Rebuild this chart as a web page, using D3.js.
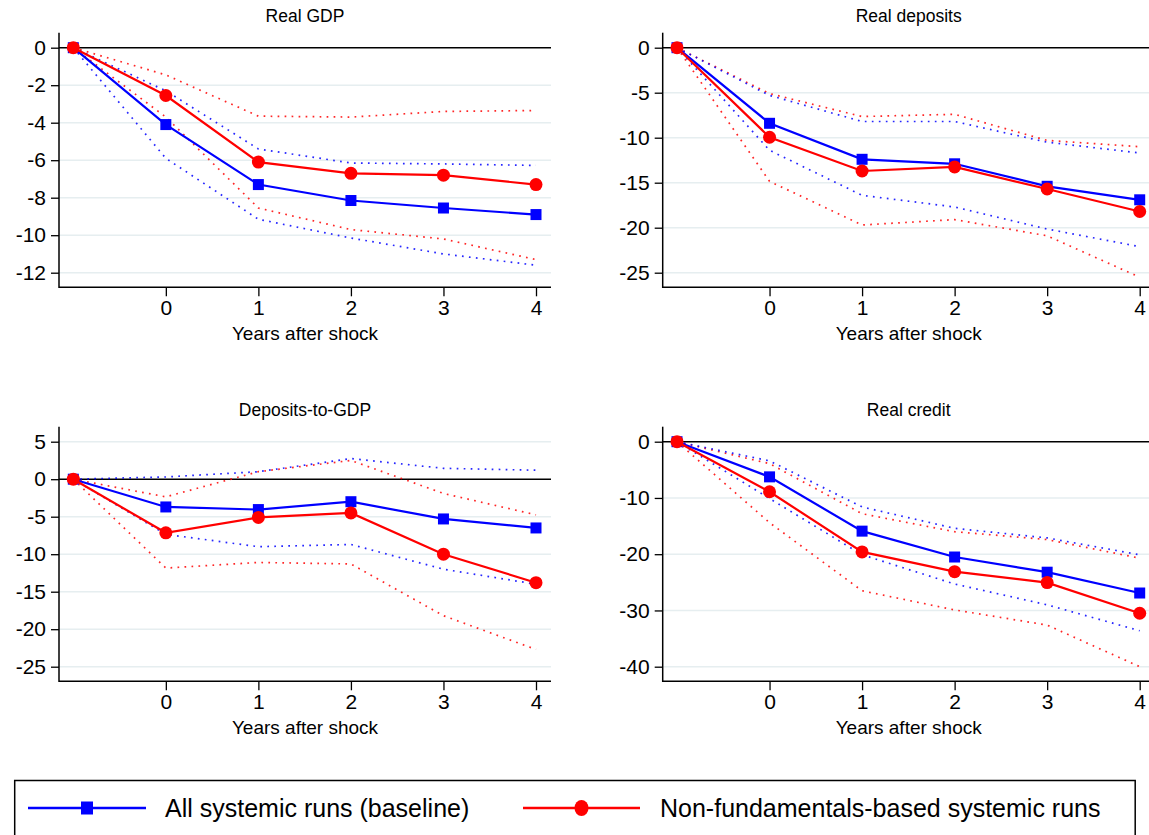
<!DOCTYPE html>
<html>
<head>
<meta charset="utf-8">
<script src="https://cdn.jsdelivr.net/npm/d3@7"></script>
<style>
  html, body { margin: 0; padding: 0; background: #ffffff; overflow: hidden; }
  svg { display: block; font-family: "Liberation Sans", Arial, sans-serif; }
</style>
</head>
<body>
<svg id="chart" width="1149" height="835"></svg>
<script>
// ---------------- data ----------------
const years = [-1, 0, 1, 2, 3, 4];
const xTickValues = [0, 1, 2, 3, 4];
const xAxisTitle = "Years after shock";
const panelTitles = ["Real GDP", "Real deposits", "Deposits-to-GDP", "Real credit"];
const seriesNames = ["All systemic runs (baseline)", "Non-fundamentals-based systemic runs"];

const gdpTicks = [0, -2, -4, -6, -8, -10, -12];
const gdpBlue   = [0, -4.1, -7.3, -8.15, -8.55, -8.9];
const gdpRed    = [0, -2.55, -6.1, -6.7, -6.8, -7.3];
const gdpBlueHi = [0, -2.3, -5.4, -6.15, -6.2, -6.28];
const gdpBlueLo = [0, -5.9, -9.15, -10.15, -11.0, -11.6];
const gdpRedHi  = [0, -1.45, -3.65, -3.7, -3.4, -3.35];
const gdpRedLo  = [0, -3.7, -8.55, -9.7, -10.2, -11.3];

const depTicks = [0, -5, -10, -15, -20, -25];
const depBlue   = [0, -8.4, -12.4, -12.9, -15.4, -16.9];
const depRed    = [0, -9.95, -13.7, -13.25, -15.7, -18.2];
const depBlueHi = [0, -5.3, -8.2, -8.2, -10.5, -11.7];
const depBlueLo = [0, -11.4, -16.4, -17.7, -20.15, -22.1];
const depRedHi  = [0, -5.1, -7.65, -7.4, -10.3, -11.0];
const depRedLo  = [0, -14.85, -19.7, -19.1, -20.9, -25.5];

const d2gTicks = [5, 0, -5, -10, -15, -20, -25];
const d2gBlue   = [0, -3.7, -4.05, -3.0, -5.3, -6.5];
const d2gRed    = [0, -7.15, -5.1, -4.5, -10.0, -13.8];
const d2gBlueHi = [0, 0.3, 1.0, 2.75, 1.45, 1.2];
const d2gBlueLo = [0, -7.35, -9.0, -8.7, -12.0, -14.0];
const d2gRedHi  = [0, -2.35, 1.0, 2.5, -1.9, -4.75];
const d2gRedLo  = [0, -11.85, -11.1, -11.3, -18.2, -22.7];

const crTicks = [0, -10, -20, -30, -40];
const crBlue   = [0, -6.25, -15.9, -20.5, -23.2, -26.9];
const crRed    = [0, -8.9, -19.6, -23.1, -25.05, -30.5];
const crBlueHi = [0, -3.4, -11.6, -15.4, -17.1, -20.1];
const crBlueLo = [0, -10.1, -20.1, -25.3, -29.0, -33.6];
const crRedHi  = [0, -3.9, -12.8, -16.0, -17.4, -20.7];
const crRedLo  = [0, -14.4, -26.5, -29.9, -32.6, -40.0];

// ---------------- layout ----------------
const BLUE = "#0000ff", RED = "#ff0000", GRID = "#e6eef0";
const panels = [
  { title: panelTitles[0], ticks: gdpTicks, blue: gdpBlue, red: gdpRed, bHi: gdpBlueHi, bLo: gdpBlueLo, rHi: gdpRedHi, rLo: gdpRedLo, ox: 0, oy: 0 },
  { title: panelTitles[1], ticks: depTicks, blue: depBlue, red: depRed, bHi: depBlueHi, bLo: depBlueLo, rHi: depRedHi, rLo: depRedLo, ox: 603.7, oy: 0 },
  { title: panelTitles[2], ticks: d2gTicks, blue: d2gBlue, red: d2gRed, bHi: d2gBlueHi, bLo: d2gBlueLo, rHi: d2gRedHi, rLo: d2gRedLo, ox: 0, oy: 394 },
  { title: panelTitles[3], ticks: crTicks, blue: crBlue, red: crRed, bHi: crBlueHi, bLo: crBlueLo, rHi: crRedHi, rLo: crRedLo, ox: 603.7, oy: 394 }
];

const svg = d3.select("#chart");
const axisLeftX = 59, plotRight = 551, axisTop = 32.7, axisBottom = 287.3;
const topTickY = 47.7, botTickY = 272.7;

panels.forEach(p => {
  const g = svg.append("g").attr("transform", `translate(${p.ox},${p.oy})`);
  const x = d3.scaleLinear().domain([-1, 4]).range([73.3, 536]);
  const y = d3.scaleLinear().domain([d3.min(p.ticks), d3.max(p.ticks)]).range([botTickY, topTickY]);

  // gridlines
  g.append("g").selectAll("line").data(p.ticks.filter(t => t !== 0)).join("line")
    .attr("x1", axisLeftX).attr("x2", plotRight)
    .attr("y1", d => y(d)).attr("y2", d => y(d))
    .attr("stroke", GRID).attr("stroke-width", 1.6);

  // zero line
  g.append("line").attr("x1", axisLeftX).attr("x2", plotRight)
    .attr("y1", y(0)).attr("y2", y(0)).attr("stroke", "#000").attr("stroke-width", 1.5);

  // y axis
  const yAxis = d3.axisLeft(y).tickValues(p.ticks).tickSize(8).tickPadding(5).tickFormat(d3.format("d"));
  const ya = g.append("g").attr("transform", `translate(${axisLeftX},0)`).call(yAxis);
  ya.select(".domain").remove();
  ya.selectAll(".tick line").attr("stroke", "#000").attr("stroke-width", 1.3);
  ya.selectAll(".tick text").attr("font-size", 21).attr("fill", "#000")
    .attr("font-family", "Liberation Sans, Arial, sans-serif").text(d => d < 0 ? "-" + Math.abs(d) : d);
  g.append("line").attr("x1", axisLeftX).attr("x2", axisLeftX).attr("y1", axisTop).attr("y2", axisBottom + 0.7)
    .attr("stroke", "#000").attr("stroke-width", 1.5);

  // x axis
  const xAxis = d3.axisBottom(x).tickValues(xTickValues).tickSize(9).tickPadding(4).tickFormat(d3.format("d"));
  const xa = g.append("g").attr("transform", `translate(0,${axisBottom})`).call(xAxis);
  xa.select(".domain").remove();
  xa.selectAll(".tick line").attr("stroke", "#000").attr("stroke-width", 1.3);
  xa.selectAll(".tick text").attr("font-size", 21).attr("fill", "#000")
    .attr("font-family", "Liberation Sans, Arial, sans-serif");
  g.append("line").attr("x1", axisLeftX).attr("x2", plotRight).attr("y1", axisBottom).attr("y2", axisBottom)
    .attr("stroke", "#000").attr("stroke-width", 1.5);

  // titles
  const cx = (axisLeftX + plotRight) / 2;
  g.append("text").attr("x", cx).attr("y", 22).attr("text-anchor", "middle")
    .attr("font-size", 17.5).attr("fill", "#000").text(p.title);
  g.append("text").attr("x", cx).attr("y", 340).attr("text-anchor", "middle")
    .attr("font-size", 19).attr("fill", "#000").text(xAxisTitle);

  const line = d3.line().x((d, i) => x(years[i])).y(d => y(d));

  // confidence bands (dotted)
  [[p.rHi, RED], [p.rLo, RED], [p.bHi, BLUE], [p.bLo, BLUE]].forEach(([arr, col]) => {
    g.append("path").datum(arr).attr("d", line).attr("fill", "none")
      .attr("stroke", col).attr("stroke-width", 1.7).attr("stroke-dasharray", "1.7,5.3")
      .attr("opacity", 0.85);
  });

  // blue series
  g.append("path").datum(p.blue).attr("d", line).attr("fill", "none")
    .attr("stroke", BLUE).attr("stroke-width", 2.2);
  g.append("g").selectAll("rect").data(p.blue).join("rect")
    .attr("x", (d, i) => x(years[i]) - 5.5).attr("y", d => y(d) - 5.5)
    .attr("width", 11).attr("height", 11).attr("fill", BLUE);

  // red series
  g.append("path").datum(p.red).attr("d", line).attr("fill", "none")
    .attr("stroke", RED).attr("stroke-width", 2.2);
  g.append("g").selectAll("circle").data(p.red).join("circle")
    .attr("cx", (d, i) => x(years[i])).attr("cy", d => y(d))
    .attr("r", 6.5).attr("fill", RED);
});

// ---------------- legend ----------------
const lg = svg.append("g");
lg.append("rect").attr("x", 14.7).attr("y", 780.5).attr("width", 1120.5).attr("height", 70)
  .attr("fill", "none").attr("stroke", "#000").attr("stroke-width", 1.5);
const legendItems = [
  { name: seriesNames[0], color: BLUE, shape: "square", x1: 28, x2: 146, tx: 165 },
  { name: seriesNames[1], color: RED, shape: "circle", x1: 523, x2: 640, tx: 660 }
];
const ly = 808;
legendItems.forEach(it => {
  lg.append("line").attr("x1", it.x1).attr("x2", it.x2).attr("y1", ly).attr("y2", ly)
    .attr("stroke", it.color).attr("stroke-width", 2.6);
  const mx = (it.x1 + it.x2) / 2;
  if (it.shape === "square") {
    lg.append("rect").attr("x", mx - 6).attr("y", ly - 6.5).attr("width", 12).attr("height", 13).attr("fill", it.color);
  } else {
    lg.append("ellipse").attr("cx", mx).attr("cy", ly).attr("rx", 7).attr("ry", 8).attr("fill", it.color);
  }
  lg.append("text").attr("x", it.tx).attr("y", ly + 9).attr("font-size", 25)
    .attr("fill", "#000").text(it.name);
});
</script>
</body>
</html>
